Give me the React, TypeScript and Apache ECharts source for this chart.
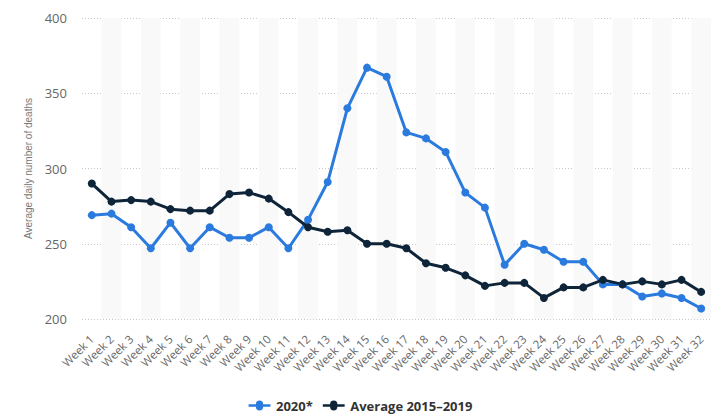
import React, { useEffect, useRef } from "react";
import * as echarts from "echarts";

const categories = Array.from({ length: 32 }, (_, i) => `Week ${i + 1}`);
const series2020 = [269, 270, 261, 247, 264, 247, 261, 254, 254, 261, 247, 266, 291, 340, 367, 361, 324, 320, 311, 284, 274, 236, 250, 246, 238, 238, 223, 223, 215, 217, 214, 207];
const seriesAvg = [290, 278, 279, 278, 273, 272, 272, 283, 284, 280, 271, 261, 258, 259, 250, 250, 247, 237, 234, 229, 222, 224, 224, 214, 221, 221, 226, 223, 225, 223, 226, 218];
const yTicks = { min: 200, max: 400, interval: 50 };

const BLUE = "#2b7bde";
const DARK = "#0e2539";
const FONT = "'Open Sans', 'DejaVu Sans', sans-serif";
const LEGEND_ICON = "path://M0,4.5L8,4.5A4,4 0 0 1 16,4.5L24,4.5L24,7.5L16,7.5A4,4 0 0 1 8,7.5L0,7.5Z";

export default function App() {
  const ref = useRef<HTMLDivElement>(null);
  useEffect(() => {
    if (!ref.current) return;
    const chart = echarts.init(ref.current, null, { renderer: "svg" });
    chart.setOption({
      animation: false,
      backgroundColor: "#ffffff",
      grid: { left: 82, right: 10, top: 18, bottom: 100, containLabel: false },
      legend: {
        bottom: 2,
        left: "center",
        itemWidth: 23,
        itemHeight: 10,
        itemGap: 10,
        textStyle: { fontFamily: FONT, fontWeight: "bold", fontSize: 13, color: "#333" },
        data: [
          { name: "2020*", icon: LEGEND_ICON },
          { name: "Average 2015–2019", icon: LEGEND_ICON },
        ],
      },
      xAxis: {
        type: "category",
        data: categories,
        boundaryGap: true,
        axisLine: { show: false },
        axisTick: { show: false },
        axisLabel: { rotate: 45, fontSize: 11.5, color: "#666", fontFamily: FONT, interval: 0, margin: 18 },
        splitArea: { show: true, interval: 0, areaStyle: { color: ["rgba(255,255,255,0)", "#f9f9fa"] } },
      },
      yAxis: {
        type: "value",
        min: yTicks.min,
        max: yTicks.max,
        interval: yTicks.interval,
        name: "Average daily number of deaths",
        nameLocation: "middle",
        nameGap: 41,
        nameTextStyle: { fontSize: 10, fontFamily: "'Liberation Sans', Arial, sans-serif", color: "#777" },
        axisLine: { show: false },
        axisTick: { show: false },
        axisLabel: { fontSize: 13, color: "#666", fontFamily: FONT, margin: 15 },
        splitLine: { lineStyle: { color: "#c8c8c8", type: [1, 2], width: 1 } },
      },
      series: [
        {
          name: "2020*",
          type: "line",
          data: series2020,
          color: BLUE,
          symbol: "circle",
          symbolSize: 8,
          lineStyle: { width: 3, color: BLUE },
          itemStyle: { color: BLUE },
        },
        {
          name: "Average 2015–2019",
          type: "line",
          data: seriesAvg,
          color: DARK,
          symbol: "circle",
          symbolSize: 8,
          lineStyle: { width: 3, color: DARK },
          itemStyle: { color: DARK },
        },
      ],
    });
    return () => chart.dispose();
  }, []);
  return <div ref={ref} style={{ width: 721, height: 419, position: "absolute", left: 0, top: 0 }} />;
}
